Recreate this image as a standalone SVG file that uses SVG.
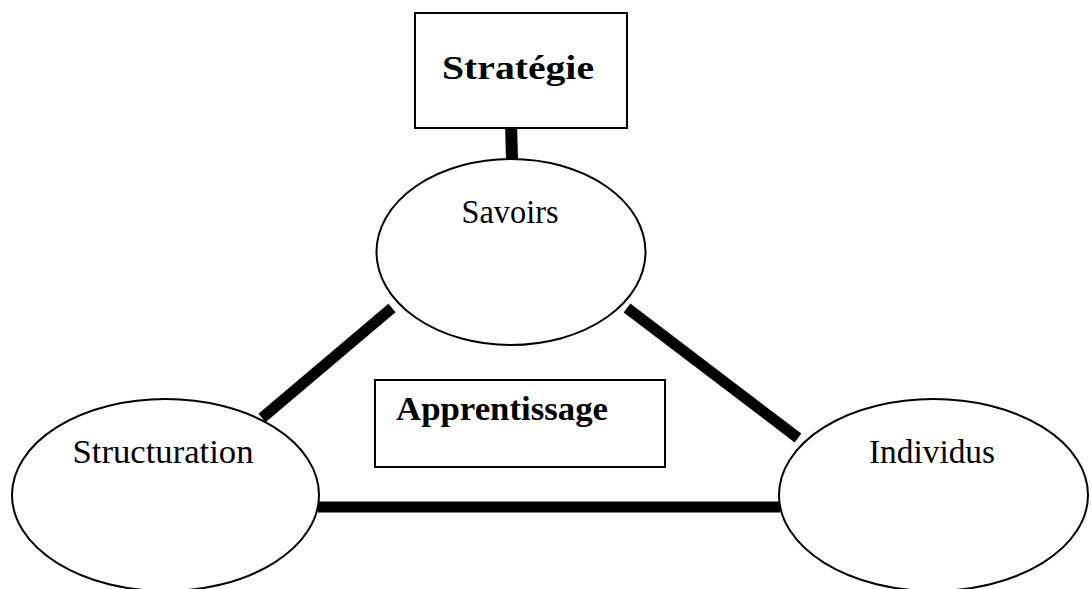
<svg xmlns="http://www.w3.org/2000/svg" width="1092" height="589" viewBox="0 0 1092 589">
  <style>
    .node { fill: #ffffff; stroke: #000000; stroke-width: 2; }
    .box { fill: #ffffff; stroke: #000000; stroke-width: 2; }
    .label { font-family: "Liberation Serif", "Times New Roman", serif; font-size: 33px; fill: #000000; }
    .bold { font-weight: bold; }
    .link { stroke: #000000; stroke-width: 11; stroke-linecap: butt; fill: none; }
  </style>
  <rect width="1092" height="589" fill="#ffffff"/>

  <!-- thick connectors between the nodes -->
  <g id="connectors">
    <line class="link" x1="511" y1="122" x2="512" y2="160" style="stroke-width:12"/>
    <line class="link" x1="392" y1="308" x2="262" y2="418"/>
    <line class="link" x1="627" y1="308" x2="798" y2="438"/>
    <line class="link" x1="318" y1="507" x2="780" y2="507"/>
  </g>

  <g id="strategie">
    <rect class="box" x="415" y="13" width="212" height="115"/>
    <text class="label bold" x="518" y="79" text-anchor="middle" font-size="36" textLength="152" lengthAdjust="spacingAndGlyphs">Stratégie</text>
  </g>

  <g id="savoirs">
    <ellipse class="node" cx="511" cy="252" rx="134.5" ry="93"/>
    <text class="label" x="510" y="223" text-anchor="middle" font-size="32" textLength="97" lengthAdjust="spacingAndGlyphs">Savoirs</text>
  </g>

  <g id="structuration">
    <ellipse class="node" cx="165.5" cy="495" rx="153.5" ry="96"/>
    <text class="label" x="163" y="463" text-anchor="middle" textLength="181" lengthAdjust="spacingAndGlyphs">Structuration</text>
  </g>

  <g id="individus">
    <ellipse class="node" cx="933.5" cy="495" rx="154.5" ry="96"/>
    <text class="label" x="932" y="463" text-anchor="middle" textLength="126" lengthAdjust="spacingAndGlyphs">Individus</text>
  </g>

  <g id="apprentissage">
    <rect class="box" x="375" y="380" width="290" height="87"/>
    <text class="label bold" x="396" y="420" textLength="212" lengthAdjust="spacingAndGlyphs">Apprentissage</text>
  </g>
</svg>
